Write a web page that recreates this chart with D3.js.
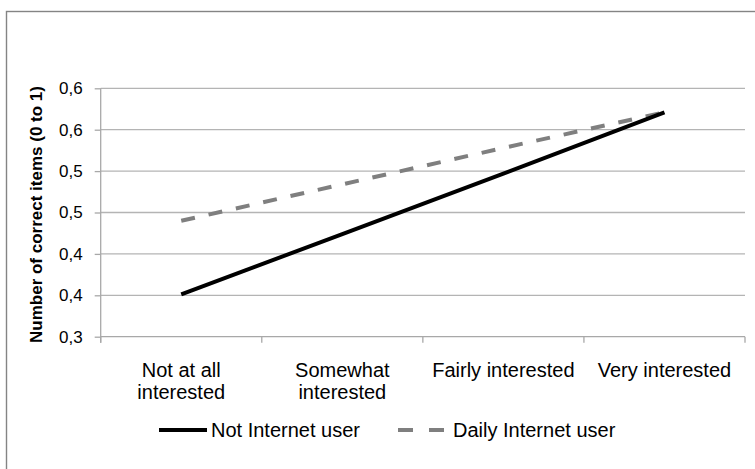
<!DOCTYPE html>
<html>
<head>
<meta charset="utf-8">
<script src="https://cdn.jsdelivr.net/npm/d3@7/dist/d3.min.js"></script>
<style>
  html, body { margin: 0; padding: 0; background: #fff; }
  svg { display: block; font-family: "Liberation Sans", Arial, sans-serif; }
</style>
</head>
<body>
<svg id="chart" width="755" height="469"></svg>
<script>
// ---- data ----
const categories = ["Not at all interested", "Somewhat interested", "Fairly interested", "Very interested"];
const seriesNames = ["Not Internet user", "Daily Internet user"];
const notInternetUser = [0.351, 0.424, 0.497, 0.571];
const dailyInternetUser = [0.440, 0.484, 0.528, 0.571];
const yTickValues = [0.30, 0.35, 0.40, 0.45, 0.50, 0.55, 0.60];
const yTickLabels = ["0,3", "0,4", "0,4", "0,5", "0,5", "0,6", "0,6"];
const yTitle = "Number of correct items (0 to 1)";

(function () {
// ---- layout ----
const svg = d3.select("#chart");
const pLeft = 100.7, pRight = 745, pTop = 88.3, pBottom = 336.7;
const tickFont = 17, catFont = 20, legFont = 20, titleFont = 17;

// outer frame
svg.append("rect")
  .attr("x", 6.5).attr("y", 11.5)
  .attr("width", 800).attr("height", 500)
  .attr("fill", "none").attr("stroke", "#848484").attr("stroke-width", 1.4);

const x = d3.scaleBand().domain(categories).range([pLeft, pRight]).padding(0);
const y = d3.scaleLinear().domain([0.30, 0.60]).range([pBottom, pTop]);

// gridlines
svg.append("g")
  .selectAll("line")
  .data(yTickValues.slice(1))
  .join("line")
  .attr("x1", pLeft).attr("x2", pRight)
  .attr("y1", d => y(d)).attr("y2", d => y(d))
  .attr("stroke", "#b4b4b4").attr("stroke-width", 1.3);

// y axis
const yAxis = d3.axisLeft(y)
  .tickValues(yTickValues)
  .tickFormat((d, i) => yTickLabels[i])
  .tickSize(6).tickPadding(12);
const gy = svg.append("g").attr("transform", `translate(${pLeft},0)`).call(yAxis);
gy.select(".domain").attr("d", `M0,${pTop}V${pBottom + 6}`).attr("stroke", "#a8a8a8").attr("stroke-width", 1.3);
gy.selectAll(".tick line").attr("stroke", "#a8a8a8").attr("stroke-width", 1.3);
gy.selectAll(".tick text").attr("font-size", tickFont).attr("fill", "#000")
  .attr("font-family", "Liberation Sans, Arial, sans-serif");

// x axis
const xAxis = d3.axisBottom(x).tickSize(0).tickFormat("");
const gx = svg.append("g").attr("transform", `translate(0,${pBottom})`).call(xAxis);
gx.select(".domain").attr("d", `M${pLeft},0H${pRight}`).attr("stroke", "#a8a8a8").attr("stroke-width", 1.3);
const boundaries = categories.map(c => x(c)).concat([x(categories[categories.length - 1]) + x.bandwidth()]);
gx.selectAll("line.btick")
  .data(boundaries)
  .join("line")
  .attr("class", "btick")
  .attr("x1", d => d).attr("x2", d => d)
  .attr("y1", 0).attr("y2", 6)
  .attr("stroke", "#a8a8a8").attr("stroke-width", 1.3);

// category labels with wrapping
const maxW = 155;
const labelG = svg.append("g");
categories.forEach(c => {
  const cx = x(c) + x.bandwidth() / 2;
  const t = labelG.append("text")
    .attr("x", cx)
    .attr("y", 377)
    .attr("text-anchor", "middle")
    .attr("font-size", catFont)
    .attr("fill", "#000");
  const words = c.split(" ");
  let line = [];
  let ts = t.append("tspan").attr("x", cx).attr("dy", 0);
  words.forEach(w => {
    line.push(w);
    ts.text(line.join(" "));
    if (ts.node().getComputedTextLength() > maxW && line.length > 1) {
      line.pop();
      ts.text(line.join(" "));
      line = [w];
      ts = t.append("tspan").attr("x", cx).attr("dy", 22).text(w);
    }
  });
});

// y title
svg.append("text")
  .attr("transform", `translate(42,${(pTop + pBottom) / 2 + 2}) rotate(-90)`)
  .attr("text-anchor", "middle")
  .attr("font-size", titleFont)
  .attr("font-weight", "bold")
  .attr("fill", "#000")
  .text(yTitle);

// lines
const lineGen = d3.line()
  .x((d, i) => x(categories[i]) + x.bandwidth() / 2)
  .y(d => y(d));

svg.append("path")
  .datum(dailyInternetUser)
  .attr("d", lineGen)
  .attr("fill", "none")
  .attr("stroke", "#7f7f7f")
  .attr("stroke-width", 4)
  .attr("stroke-dasharray", "14,14");

svg.append("path")
  .datum(notInternetUser)
  .attr("d", lineGen)
  .attr("fill", "none")
  .attr("stroke", "#000")
  .attr("stroke-width", 4);

// legend
const legY = 430;
const lg = svg.append("g");
lg.append("line").attr("x1", 159).attr("x2", 207).attr("y1", legY).attr("y2", legY)
  .attr("stroke", "#000").attr("stroke-width", 4);
lg.append("text").attr("x", 211).attr("y", legY + 7).attr("font-size", legFont).attr("fill", "#000")
  .text(seriesNames[0]);
lg.append("line").attr("x1", 398).attr("x2", 444).attr("y1", legY).attr("y2", legY)
  .attr("stroke", "#7f7f7f").attr("stroke-width", 4).attr("stroke-dasharray", "15,16");
lg.append("text").attr("x", 453).attr("y", legY + 7).attr("font-size", legFont).attr("fill", "#000")
  .text(seriesNames[1]);
})();
</script>
</body>
</html>
